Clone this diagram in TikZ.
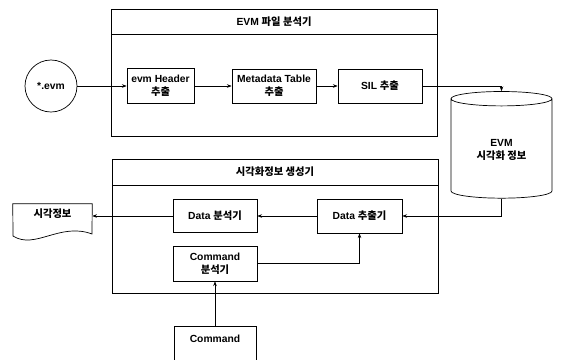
\documentclass[tikz,border=0pt]{standalone}
\usepackage{fontspec}
\setmainfont{Liberation Sans}
\newfontfamily\kr{Noto Sans CJK KR}
\usetikzlibrary{arrows.meta,shapes.geometric,positioning,calc}

\begin{document}
\begin{tikzpicture}[
    x=0.03cm, y=-0.03cm,
    every node/.style={font=\fontsize{8.8}{11}\selectfont\bfseries},
    frame/.style={draw, line width=0.8pt, minimum width=9.78cm},
    titlebar/.style={draw, line width=0.8pt, minimum width=9.78cm, anchor=north},
    box/.style={draw, line width=0.6pt, minimum width=2.52cm, minimum height=1.02cm, align=center, inner sep=1pt},
    arr/.style={-{Stealth[length=4pt,width=3pt]}, line width=0.5pt}
]
\useasboundingbox (0,0) rectangle (561,359);

% EVM file analyser
\node[frame, minimum height=3.81cm] (fra) at (274,72.5) {};
\node[titlebar, minimum height=0.75cm] (frat) at (fra.north) {EVM {\kr 파일 분석기}};
\node[draw, circle, line width=0.6pt, minimum size=1.56cm] (evm) at (51,86) {*.evm};
\node[box, minimum width=2.01cm, minimum height=1.05cm] (hdr) at (160.5,86) {evm Header\\{\kr 추출}};
\node[box] (meta) at (274,86) {Metadata Table\\{\kr 추출}};
\node[box] (sil) at (380,86) {SIL {\kr 추출}};
\node[draw, cylinder, shape border rotate=90, aspect=0.25, line width=0.6pt, minimum width=3.03cm, minimum height=3.2cm, align=center] (db) at (501.5,150) {EVM\\{\kr 시각화 정보}};

\draw[arr] (evm) -- (hdr);
\draw[arr] (hdr) -- (meta);
\draw[arr] (meta) -- (sil);
\draw[arr] (sil.east) -| (db.north);

% visualisation info generator
\node[frame, minimum height=4.02cm] (frb) at (275,226) {};
\node[titlebar, minimum height=0.78cm] (frbt) at (frb.north) {\kr 시각화정보 생성기};
\node[box, minimum height=0.99cm] (dan) at (215,216) {Data {\kr 분석기}};
\node[box, minimum width=2.55cm] (dext) at (359.5,216) {Data {\kr 추출기}};
\node[box, minimum height=1.05cm] (cman) at (215,263.5) {Command\\{\kr 분석기}};
\node[box, minimum width=2.46cm, anchor=north, text height=0.45cm, text depth=0.5cm] (cmd) at (215,326) {Command};
\node[font=\fontsize{8.8}{11}\selectfont\bfseries\kr, minimum width=2.37cm, minimum height=0.6cm] (vis) at (52.5,214) {시각정보};
\draw[line width=0.6pt] (vis.north west) -- (vis.north east) -- (92,234) .. controls (60,222) and (35,250) .. (13,236) -- cycle;

\draw[arr] (cmd) -- (cman);
\draw[arr] (cman.east) -| (dext.south);
\draw[arr] (dext) -- (dan);
\draw[arr] (dan.west) -- (dan.west -| vis.east);
\draw[arr] (db.south) |- (dext.east);
\end{tikzpicture}
\end{document}
